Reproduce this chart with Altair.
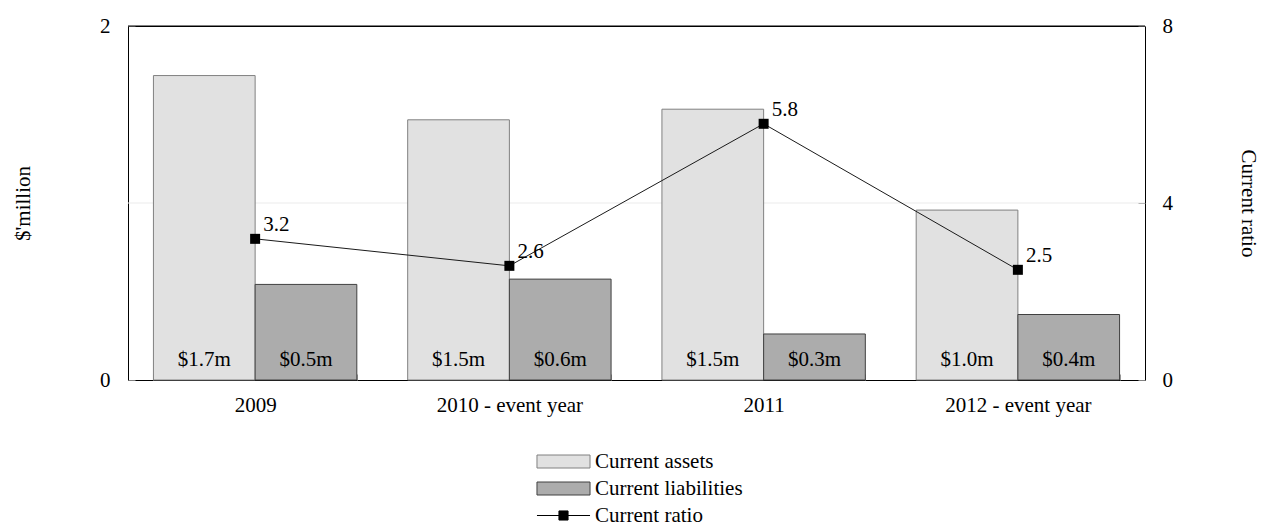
import altair as alt
import pandas as pd

years = ["2009", "2010 - event year", "2011", "2012 - event year"]
series_names = ["Current assets", "Current liabilities", "Current ratio"]
assets = [1.72, 1.47, 1.53, 0.96]
liabilities = [0.54, 0.57, 0.26, 0.37]
asset_labels = ["$1.7m", "$1.5m", "$1.5m", "$1.0m"]
liability_labels = ["$0.5m", "$0.6m", "$0.3m", "$0.4m"]
ratio = [3.19, 2.58, 5.79, 2.49]
ratio_labels = ["3.2", "2.6", "5.8", "2.5"]
gridline_values = [1]
frame_top_values = [2]

fill_colors = ["#e1e1e1", "#acacac", "#000000"]
stroke_colors = ["#808080", "#404040", "#000000"]
shape_paths = [
    "M-4.08,-1H4.08V1H-4.08Z",
    "M-4.08,-1H4.08V1H-4.08Z",
    "M-4.08,0H4.08M-0.7,-0.7H0.7V0.7H-0.7Z",
]
FONT = "Liberation Serif"
FS = 21

bars_df = pd.DataFrame({
    "year": years * 2,
    "series": [series_names[0]] * 4 + [series_names[1]] * 4,
    "value": assets + liabilities,
    "label": asset_labels + liability_labels,
})
ratio_df = pd.DataFrame({"year": years, "ratio": ratio, "label": ratio_labels})
legend_df = pd.DataFrame({"series": series_names})
grid_df = pd.DataFrame({"g": gridline_values})
top_df = pd.DataFrame({"g": frame_top_values})

x_enc = alt.X(
    "year:N", sort=years,
    scale=alt.Scale(paddingInner=0.2, paddingOuter=0.1),
    axis=alt.Axis(title=None, labelAngle=0, labelFont=FONT, labelFontSize=FS,
                  labelColor="black", labelPadding=14, ticks=True, tickSize=6,
                  tickColor="#9a9a9a", tickBand="extent", offset=-6, domain=False),
)
xoff = alt.XOffset("series:N", sort=series_names[:2],
                   scale=alt.Scale(paddingInner=0, paddingOuter=0))

left_axis = alt.Axis(
    values=[0, 1, 2], format="d", title="$'million", titleFont=FONT, titleFontSize=FS,
    titleFontWeight="normal", titleColor="black", titleAngle=270,
    titleX=-112, titleY=177, titleAlign="center", titleBaseline="middle",
    labelFont=FONT, labelFontSize=FS, labelColor="black", labelPadding=18,
    ticks=True, tickSize=7, tickColor="#808080", offset=-7,
    domain=False, grid=False,
)
right_axis = alt.Axis(
    orient="right", values=[0, 4, 8], format="d", title="Current ratio", titleFont=FONT,
    titleFontSize=FS, titleFontWeight="normal", titleColor="black", titleAngle=90,
    titleX=109, titleY=177, titleAlign="center", titleBaseline="middle",
    labelFont=FONT, labelFontSize=FS, labelColor="black", labelPadding=17,
    ticks=True, tickSize=7, tickColor="#808080", offset=-7,
    domain=False, grid=False,
)
yl_scale = alt.Scale(domain=[0, 2], nice=False)
yr_scale = alt.Scale(domain=[0, 8], nice=False)

fill_scale = alt.Scale(domain=series_names, range=fill_colors)
stroke_scale = alt.Scale(domain=series_names, range=stroke_colors)
shape_scale = alt.Scale(domain=series_names, range=shape_paths)

gridrule = alt.Chart(grid_df).mark_rule(color="#ebebeb", strokeWidth=1).encode(
    y=alt.Y("g:Q", scale=yl_scale, axis=left_axis),
)
toprule = alt.Chart(top_df).mark_rule(color="black", strokeWidth=1).encode(
    y=alt.Y("g:Q", scale=yl_scale, axis=left_axis),
)

is_assets = alt.datum.series == series_names[0]
bars = alt.Chart(bars_df).mark_bar(strokeWidth=1).encode(
    x=x_enc, xOffset=xoff,
    y=alt.Y("value:Q", scale=yl_scale, axis=left_axis),
    fill=alt.condition(is_assets, alt.value(fill_colors[0]), alt.value(fill_colors[1])),
    stroke=alt.condition(is_assets, alt.value(stroke_colors[0]), alt.value(stroke_colors[1])),
)
bar_text = alt.Chart(bars_df).transform_calculate(base="0").mark_text(
    font=FONT, fontSize=FS, baseline="alphabetic", dy=-14, color="black"
).encode(
    x=x_enc, xOffset=xoff,
    y=alt.Y("base:Q", scale=yl_scale, axis=left_axis),
    text="label:N",
)

leg = alt.Legend(
    title=None, orient="none", legendX=425, legendY=425, direction="vertical",
    labelFont=FONT, labelFontSize=FS, labelColor="black", symbolSize=169,
    symbolStrokeWidth=1, labelOffset=21, rowPadding=5, padding=0,
)
legend_layer = alt.Chart(legend_df).transform_filter("false").mark_point(
    filled=True, opacity=1
).encode(
    fill=alt.Fill("series:N", scale=fill_scale, legend=leg),
    stroke=alt.Stroke("series:N", scale=stroke_scale, legend=leg),
    shape=alt.Shape("series:N", scale=shape_scale, legend=leg),
)

left = alt.layer(gridrule, bars, bar_text, toprule, legend_layer)

line = alt.Chart(ratio_df).mark_line(color="#1a1a1a", strokeWidth=1).encode(
    x=x_enc, y=alt.Y("ratio:Q", scale=yr_scale, axis=right_axis),
)
pts = alt.Chart(ratio_df).mark_point(shape="square", filled=True, size=100,
                                     color="black", opacity=1).encode(
    x=x_enc, y=alt.Y("ratio:Q", scale=yr_scale, axis=right_axis),
)
rtext = alt.Chart(ratio_df).mark_text(
    font=FONT, fontSize=FS, align="left", baseline="middle", dx=8, dy=-14,
    color="black",
).encode(
    x=x_enc, y=alt.Y("ratio:Q", scale=yr_scale, axis=right_axis), text="label:N",
)
right = alt.layer(line, pts, rtext)

chart = alt.layer(left, right).resolve_scale(y="independent").properties(
    width=1017, height=354,
    padding={"left": 128, "top": 26, "right": 117, "bottom": 149},
    autosize=alt.AutoSizeParams(type="none"),
    background="white",
).configure_view(stroke="black", strokeWidth=1)

chart.save("out.html", embed_options={"renderer": "svg", "actions": False})
